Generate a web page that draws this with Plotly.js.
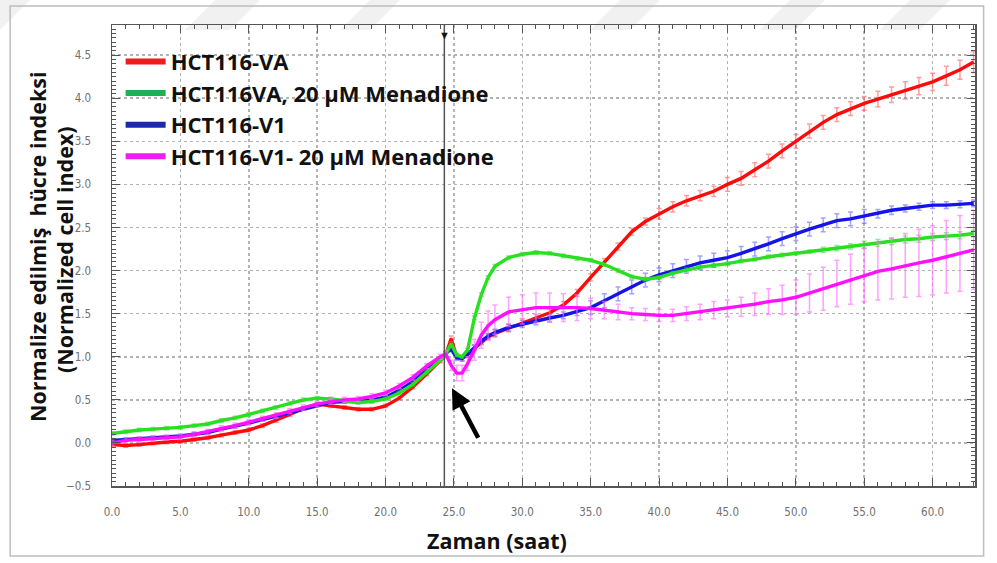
<!DOCTYPE html>
<html>
<head>
<meta charset="utf-8">
<script src="https://cdn.plot.ly/plotly-3.0.1.min.js"></script>
<style>html,body{margin:0;padding:0;background:#fff;}#chart{width:997px;height:563px;}</style>
</head>
<body>
<div id="chart"></div>
<script>
// ---- data ----
const hours = [0,1,2,3,4,5,6,7,8,9,10,11,12,13,14,15,16,17,18,19,20,21,22,23,24,
  24.4,24.8,25.2,25.6,26,26.5,27,27.5,
  28,29,30,31,32,33,34,35,36,37,38,39,40,41,42,43,44,45,46,47,48,49,50,51,52,53,54,55,56,57,58,59,60,61,62,63];

const seriesNames = ["HCT116-VA", "HCT116VA, 20 µM Menadione", "HCT116-V1", "HCT116-V1- 20 µM Menadione"];

const redVA = [-0.02,-0.03,-0.02,0.00,0.01,0.02,0.04,0.06,0.09,0.12,0.15,0.20,0.26,0.33,0.40,0.45,0.43,0.41,0.39,0.39,0.43,0.52,0.65,0.80,0.95,
  1.02,1.21,1.00,0.98,1.02,1.10,1.17,1.23,
  1.27,1.33,1.40,1.45,1.51,1.60,1.74,1.92,2.10,2.28,2.45,2.57,2.66,2.74,2.81,2.87,2.92,3.00,3.07,3.17,3.27,3.39,3.50,3.62,3.72,3.81,3.88,3.94,3.99,4.04,4.09,4.14,4.19,4.26,4.33,4.42];
const redErr = [0.02,0.02,0.02,0.02,0.02,0.02,0.02,0.02,0.02,0.02,0.02,0.02,0.02,0.02,0.02,0.02,0.02,0.02,0.02,0.02,0.02,0.02,0.02,0.02,0.02,
  0.03,0.03,0.03,0.03,0.03,0.03,0.03,0.03,
  0.04,0.04,0.04,0.04,0.04,0.04,0.04,0.04,0.04,0.04,0.04,0.04,0.06,0.06,0.06,0.06,0.06,0.08,0.08,0.08,0.08,0.08,0.08,0.08,0.08,0.08,0.08,0.08,0.09,0.09,0.10,0.10,0.10,0.11,0.11,0.12];

const greenVA = [0.11,0.13,0.15,0.16,0.17,0.18,0.20,0.22,0.26,0.29,0.33,0.37,0.41,0.46,0.50,0.52,0.51,0.49,0.47,0.48,0.51,0.58,0.68,0.82,0.96,
  1.03,1.15,1.02,1.00,1.08,1.45,1.72,1.92,
  2.05,2.15,2.19,2.21,2.20,2.17,2.14,2.12,2.07,2.00,1.93,1.90,1.92,1.97,2.01,2.04,2.06,2.08,2.11,2.13,2.16,2.18,2.20,2.22,2.24,2.26,2.28,2.30,2.32,2.34,2.36,2.37,2.39,2.40,2.41,2.43];
const greenErr = [0.02,0.02,0.02,0.02,0.02,0.02,0.02,0.02,0.02,0.02,0.02,0.02,0.02,0.02,0.02,0.02,0.02,0.02,0.02,0.02,0.02,0.02,0.02,0.02,0.02,
  0.02,0.02,0.02,0.02,0.02,0.02,0.02,0.02,
  0.02,0.02,0.02,0.02,0.02,0.02,0.02,0.02,0.02,0.02,0.02,0.02,0.02,0.02,0.02,0.02,0.02,0.02,0.02,0.02,0.02,0.02,0.02,0.02,0.03,0.03,0.03,0.04,0.04,0.04,0.04,0.04,0.04,0.04,0.04,0.04];

const blueV1 = [0.03,0.04,0.05,0.06,0.07,0.08,0.10,0.12,0.16,0.19,0.23,0.27,0.31,0.36,0.40,0.44,0.47,0.48,0.48,0.50,0.53,0.61,0.71,0.85,0.98,
  1.03,1.09,0.99,0.98,1.03,1.11,1.18,1.24,
  1.28,1.34,1.38,1.41,1.45,1.48,1.52,1.57,1.65,1.73,1.81,1.89,1.95,2.00,2.05,2.09,2.12,2.15,2.20,2.25,2.31,2.37,2.43,2.48,2.53,2.58,2.60,2.63,2.66,2.70,2.72,2.74,2.76,2.76,2.77,2.78];
const blueErr = [0.02,0.02,0.02,0.02,0.02,0.02,0.02,0.02,0.02,0.02,0.02,0.02,0.02,0.02,0.02,0.02,0.02,0.02,0.02,0.02,0.02,0.02,0.02,0.02,0.02,
  0.03,0.03,0.03,0.03,0.03,0.03,0.03,0.03,
  0.04,0.04,0.04,0.04,0.04,0.04,0.04,0.08,0.08,0.08,0.08,0.08,0.08,0.08,0.08,0.08,0.08,0.08,0.08,0.08,0.08,0.08,0.08,0.08,0.08,0.08,0.08,0.08,0.05,0.05,0.04,0.04,0.04,0.04,0.04,0.04];

const magentaV1 = [0.00,0.03,0.04,0.05,0.06,0.07,0.10,0.13,0.17,0.20,0.24,0.28,0.32,0.37,0.41,0.45,0.48,0.50,0.51,0.54,0.58,0.66,0.76,0.89,1.00,
  1.03,0.90,0.81,0.81,0.92,1.08,1.25,1.36,
  1.43,1.52,1.55,1.57,1.57,1.57,1.57,1.56,1.54,1.52,1.50,1.49,1.48,1.48,1.50,1.52,1.54,1.56,1.58,1.61,1.64,1.66,1.69,1.74,1.79,1.85,1.90,1.95,1.99,2.02,2.06,2.09,2.12,2.16,2.20,2.24];
const magentaErr = [0.03,0.03,0.03,0.03,0.03,0.03,0.03,0.03,0.03,0.03,0.03,0.03,0.03,0.03,0.03,0.03,0.03,0.03,0.03,0.03,0.03,0.03,0.03,0.03,0.03,
  0.04,0.06,0.09,0.09,0.08,0.12,0.15,0.17,
  0.17,0.17,0.17,0.17,0.17,0.16,0.15,0.12,0.10,0.09,0.07,0.07,0.07,0.07,0.08,0.09,0.10,0.10,0.11,0.13,0.15,0.17,0.20,0.22,0.25,0.27,0.29,0.31,0.33,0.35,0.37,0.39,0.40,0.42,0.44,0.46];

const yTickVals = [-0.5,0,0.5,1,1.5,2,2.5,3,3.5,4,4.5];
const xTickVals = [0,5,10,15,20,25,30,35,40,45,50,55,60];
const treatmentTime = 24.3;
const yTitleLines = ['Normalize edilmiş  hücre indeksi', '(Normalized cell index)'];
const xTitle = 'Zaman (saat)';

// ---- traces ----
const lineColors = ['#ff0a0a', '#28e020', '#1414e6', '#ff10ff'];
const legendColors = ['#ee1c1c', '#1db054', '#1c2aa6', '#f21cf2'];
const errColors = ['rgba(255,90,90,0.6)', 'rgba(40,210,40,0.5)', 'rgba(70,70,255,0.5)', 'rgba(255,110,255,0.65)'];
const ys = [redVA, greenVA, blueV1, magentaV1];
const errs = [redErr, greenErr, blueErr, magentaErr];
const drawOrder = [0, 2, 1, 3];

const traces = [];
drawOrder.forEach(i => {
  traces.push({
    x: hours, y: ys[i], type: 'scatter', mode: 'lines',
    name: seriesNames[i], showlegend: false,
    line: {color: lineColors[i], width: 3.4},
    error_y: {type: 'data', array: errs[i], visible: true, color: errColors[i], thickness: 1.5, width: 2.5}
  });
});
// legend entries
[0,1,2,3].forEach(i => {
  traces.push({
    x: [null], y: [null], type: 'scatter', mode: 'lines', name: seriesNames[i],
    legendgroup: 'g' + i, showlegend: true,
    line: {color: legendColors[i], width: 6}
  });
});

const tickFont = {family: 'Liberation Sans Narrow, DejaVu Sans Condensed, Arial Narrow, sans-serif', size: 11.5, color: '#707070'};
const titleFont = {family: 'Open Sans, sans-serif', size: 21.5, color: '#111', weight: 'bold'};

// faint watermark bands at the top of the page
const wm = [];
[[-30, 30], [185, 45], [340, 30], [590, 40], [760, 35], [880, 40]].forEach(b => {
  const x0 = b[0], w = b[1];
  const px = v => (v - 112) / 863, py = v => (486 - v) / 461;
  wm.push({type: 'path', xref: 'paper', yref: 'paper', layer: 'below',
    path: `M ${px(x0)} ${py(30)} L ${px(x0 + w)} ${py(30)} L ${px(x0 + w + 30)} ${py(0)} L ${px(x0 + 30)} ${py(0)} Z`,
    fillcolor: '#f1f1f1', line: {width: 0}});
});

const layout = {
  width: 997, height: 563,
  margin: {l: 112, r: 22, t: 25, b: 77},
  paper_bgcolor: '#ffffff', plot_bgcolor: '#ffffff',
  showlegend: true,
  legend: {
    x: 0.01, y: 0.966, xanchor: 'left', yanchor: 'top',
    bgcolor: 'rgba(0,0,0,0)', borderwidth: 0,
    font: {family: 'Open Sans, sans-serif', size: 22, color: '#111', weight: 'bold'},
    itemwidth: 40, tracegroupgap: 2, traceorder: 'normal'
  },
  xaxis: {
    range: [0, 63.1], tickvals: xTickVals, tickformat: '.1f',
    ticks: 'inside', ticklen: 8, tickcolor: '#555', tickwidth: 1,
    minor: {dtick: 1, ticks: 'inside', ticklen: 4, tickcolor: '#555', showgrid: false},
    showline: true, linecolor: '#555', linewidth: 1.5, mirror: 'ticks',
    showgrid: true, gridcolor: '#b4b4b4', griddash: 'dot', gridwidth: 1.5,
    zeroline: false, tickfont: tickFont, ticklabelstandoff: 15
  },
  yaxis: {
    range: [-0.5, 4.85], tickvals: yTickVals, tickformat: '.1f',
    ticks: 'inside', ticklen: 8, tickcolor: '#555', tickwidth: 1,
    minor: {dtick: 0.05, tick0: 0, ticks: 'inside', ticklen: 4, tickcolor: '#555', showgrid: false},
    showline: true, linecolor: '#555', linewidth: 1.5, mirror: 'ticks',
    showgrid: true, gridcolor: '#b4b4b4', griddash: 'dot', gridwidth: 1.5,
    zeroline: false, tickfont: tickFont, ticklabelstandoff: 17
  },
  shapes: wm.concat([
    {type: 'line', xref: 'x', yref: 'paper', x0: treatmentTime, x1: treatmentTime, y0: 0, y1: 1,
     line: {color: '#555', width: 1.5}},
    {type: 'rect', xref: 'paper', yref: 'paper', x0: -0.118, x1: 1.01, y0: -0.152, y1: 1.041,
     line: {color: '#bdbdbd', width: 1.5}, layer: 'below'}
  ]),
  annotations: [
    {x: treatmentTime, y: 1, xref: 'x', yref: 'paper', text: '▼', showarrow: false,
     yanchor: 'top', font: {size: 11, color: '#111'}},
    {x: 24.86, y: 0.635, xref: 'x', yref: 'y', ax: 27, ay: 51, text: '', showarrow: true,
     arrowhead: 2, arrowsize: 0.9, arrowwidth: 4.5, arrowcolor: '#000'},
    {x: 0.446, y: -0.119, xref: 'paper', yref: 'paper', text: xTitle, showarrow: false,
     xanchor: 'center', yanchor: 'middle', font: titleFont},
    {x: (37 - 112) / 863, y: (486 - 247) / 461, xref: 'paper', yref: 'paper', textangle: -90,
     text: yTitleLines[0], showarrow: false, xanchor: 'center', yanchor: 'middle', font: titleFont},
    {x: (64 - 112) / 863, y: (486 - 250) / 461, xref: 'paper', yref: 'paper', textangle: -90,
     text: yTitleLines[1], showarrow: false, xanchor: 'center', yanchor: 'middle', font: titleFont}
  ]
};

Plotly.newPlot('chart', traces, layout, {displayModeBar: false, staticPlot: true});
</script>
</body>
</html>
